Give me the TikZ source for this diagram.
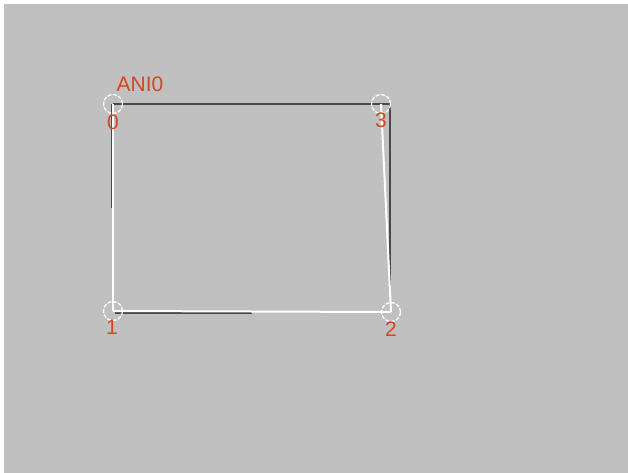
\documentclass[tikz,border=0pt]{standalone}
\usepackage{fontspec}
\setmainfont{Liberation Sans}
\definecolor{bg}{RGB}{192,192,192}
\definecolor{lbl}{RGB}{210,72,32}
\definecolor{edge}{RGB}{72,72,72}
\begin{document}
\begin{tikzpicture}[x=1pt,y=-1pt,
  vtx/.style={circle,draw=white,dash pattern=on 4pt off 1.5pt,line width=1.3pt,minimum size=19pt,inner sep=0pt},
  lab/.style={text=lbl,font=\fontsize{21}{21}\selectfont,inner sep=0pt},
  dk/.style={draw=edge,line width=2.2pt},
  wt/.style={draw=white,line width=2pt}]
\useasboundingbox (0,0) rectangle (628,473);
\fill[white] (0,0) rectangle (628,473);
\fill[bg] (4,4) rectangle (628,473);
% vertices
\coordinate (p0) at (113,104);
\coordinate (p3) at (381,104);
\coordinate (p1) at (113,311);
\coordinate (p2) at (391,312);
\coordinate (d3) at (390,104);
\coordinate (dl) at (112,208);
\coordinate (dr) at (390,292);
\coordinate (db) at (252,313);
\coordinate (db0) at (115,313);
\coordinate (dl0) at (112,104);
% dark edges
\draw[dk] (p0) -- (d3);
\draw[dk] (dl0) -- (dl);
\draw[dk] (d3) -- (dr);
\draw[dk] (db0) -- (db);
% white edges
\draw[wt] (p0) -- (p1);
\draw[wt] (p1) -- (p2);
\draw[wt] (p3) -- (p2);
% vertex markers
\node[vtx] (v0) at (p0) {};
\node[vtx] (v3) at (p3) {};
\node[vtx] (v1) at (p1) {};
\node[vtx] (v2) at (p2) {};
% labels
\node[lab] (name) at (140,84) {ANI0};
\node[lab] (l0) at (113,122) {0};
\node[lab] (l3) at (381,120) {3};
\node[lab] (l1) at (112,327) {1};
\node[lab] (l2) at (391,329) {2};
\end{tikzpicture}
\end{document}
